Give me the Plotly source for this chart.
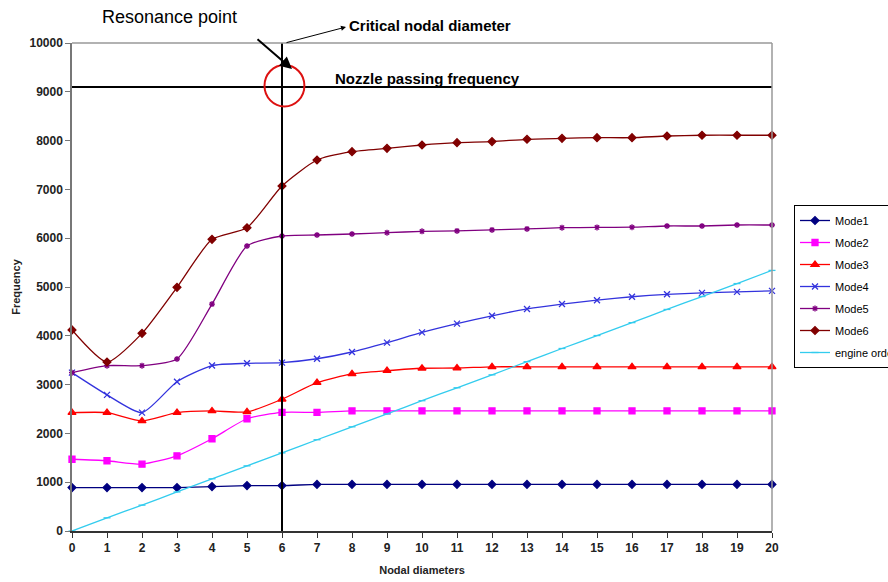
import plotly.graph_objects as go

nodal = list(range(21))
tick_labels = [str(n) for n in nodal]
y_ticks = list(range(0, 10001, 1000))
y_tick_labels = [str(v) for v in y_ticks]

mode1 = [890, 890, 890, 890, 910, 930, 930, 955, 955, 955, 955, 955, 955, 955, 955, 955, 955, 955, 955, 955, 955]
mode2 = [1470, 1440, 1370, 1540, 1890, 2300, 2430, 2430, 2460, 2460, 2460, 2460, 2460, 2460, 2460, 2460, 2460, 2460, 2460, 2460, 2460]
mode3 = [2425, 2425, 2255, 2425, 2460, 2440, 2700, 3040, 3220, 3285, 3335, 3340, 3365, 3365, 3365, 3365, 3365, 3365, 3365, 3365, 3365]
mode4 = [3245, 2790, 2425, 3060, 3390, 3436, 3450, 3530, 3668, 3860, 4070, 4250, 4410, 4550, 4650, 4730, 4800, 4850, 4880, 4900, 4920]
mode5 = [3245, 3388, 3388, 3525, 4650, 5840, 6045, 6066, 6086, 6113, 6140, 6150, 6170, 6190, 6215, 6220, 6225, 6250, 6250, 6270, 6270]
mode6 = [4120, 3463, 4050, 4993, 5977, 6215, 7070, 7602, 7773, 7842, 7910, 7958, 7979, 8027, 8047, 8060, 8060, 8094, 8110, 8110, 8110]
engine_order = [0, 270, 530, 800, 1070, 1335, 1600, 1870, 2135, 2400, 2670, 2935, 3200, 3470, 3740, 4005, 4270, 4540, 4805, 5070, 5340]

critical_nd = 6
nozzle_freq = 9100

series = [
    ("Mode1", mode1, "#000080", "diamond", 6),
    ("Mode2", mode2, "#FF00FF", "square", 6),
    ("Mode3", mode3, "#FF0000", "triangle-up", 7),
    ("Mode4", mode4, "#3333DD", "x-thin-open", 6),
    ("Mode5", mode5, "#800080", "asterisk-open", 5),
    ("Mode6", mode6, "#800000", "diamond", 6),
    ("engine order", engine_order, "#33CCEE", "line-ew-open", 5),
]

FONT = "Arial, 'Liberation Sans', sans-serif"

fig = go.Figure()
for i, (name, vals, col, sym, sz) in enumerate(series):
    fig.add_trace(go.Scatter(
        x=nodal, y=vals, name=name, mode="lines+markers",
        line=dict(color=col, width=1.3, shape="spline", smoothing=0.6),
        marker=dict(symbol=sym, size=sz, color=col, line=dict(color=col, width=1.3)),
        cliponaxis=False, legendgroup=name,
    ))

# vertical critical line and nozzle passing line
fig.add_shape(type="line", x0=critical_nd, x1=critical_nd, y0=0, y1=10000,
              line=dict(color="black", width=2), xref="x", yref="y")
fig.add_shape(type="line", x0=nodal[0], x1=nodal[-1], y0=nozzle_freq, y1=nozzle_freq,
              line=dict(color="black", width=2), xref="x", yref="y")
# red circle around resonance point
fig.add_shape(type="circle", x0=5.5, x1=6.64, y0=8700, y1=9550,
              line=dict(color="#DD1111", width=2), xref="x", yref="y")
# top/right border
fig.add_shape(type="line", xref="paper", yref="paper", x0=0, x1=1, y0=1, y1=1,
              line=dict(color="#999999", width=1.5))
fig.add_shape(type="line", xref="paper", yref="paper", x0=1, x1=1, y0=0, y1=1,
              line=dict(color="#999999", width=1.5))

fig.add_annotation(text="Nozzle passing frequency", x=7.45, y=9270, xref="x", yref="y",
                   xanchor="left", yanchor="middle", showarrow=False,
                   font=dict(family=FONT, size=15, color="black", weight="bold"))
fig.add_annotation(text="Resonance point", xref="paper", yref="paper",
                   x=(169 - 72) / 700, y=(531 - 17) / 488, xanchor="center", yanchor="middle",
                   showarrow=False, font=dict(family=FONT, size=18, color="black"))
fig.add_annotation(text="", xref="paper", yref="paper", x=(292 - 72) / 700, y=(531 - 69) / 488,
                   showarrow=True, ax=-36, ay=-31, arrowhead=2, arrowsize=1.2, arrowwidth=2,
                   arrowcolor="black", standoff=0)
fig.add_annotation(text="Critical nodal diameter", xref="paper", yref="paper",
                   x=(347 - 72) / 700, y=(531 - 26) / 488, xanchor="left", yanchor="middle",
                   showarrow=False, font=dict(family=FONT, size=15, color="black", weight="bold"))
fig.add_annotation(text="", xref="paper", yref="paper", x=(346 - 72) / 700, y=(531 - 27) / 488,
                   showarrow=True, ax=-61, ay=16, arrowhead=2, arrowsize=1, arrowwidth=1,
                   arrowcolor="black", standoff=0)

fig.update_layout(
    width=888, height=582,
    margin=dict(l=72, r=116, t=43, b=51, autoexpand=False),
    paper_bgcolor="white", plot_bgcolor="white",
    font=dict(family=FONT, size=11, color="#222222"),
    showlegend=True,
    legend=dict(x=(794 - 72) / 700, y=(531 - 205) / 488, xanchor="left", yanchor="top",
                bordercolor="black", borderwidth=1, bgcolor="white",
                font=dict(family=FONT, size=11, color="black"),
                tracegroupgap=3, itemwidth=30),
    xaxis=dict(range=[0, 20], tickmode="array", tickvals=nodal, ticktext=tick_labels,
               showgrid=False, zeroline=False, showline=True, linecolor="#333333", linewidth=1.5,
               ticks="outside", ticklen=5, tickcolor="#333333",
               tickfont=dict(family=FONT, size=12, color="#222222", weight="bold"),
               title=dict(text="Nodal diameters", standoff=12,
                          font=dict(family=FONT, size=11, color="#222222", weight="bold"))),
    yaxis=dict(range=[0, 10000], tickmode="array", tickvals=y_ticks, ticktext=y_tick_labels,
               showgrid=False, zeroline=False, showline=True, linecolor="#777777", linewidth=1.5,
               ticks="outside", ticklen=5, tickcolor="#777777",
               tickfont=dict(family=FONT, size=12, color="#222222", weight="bold"),
               title=dict(text="Frequency", standoff=7,
                          font=dict(family=FONT, size=11, color="#222222", weight="bold"))),
)

fig.write_html("out.html")
